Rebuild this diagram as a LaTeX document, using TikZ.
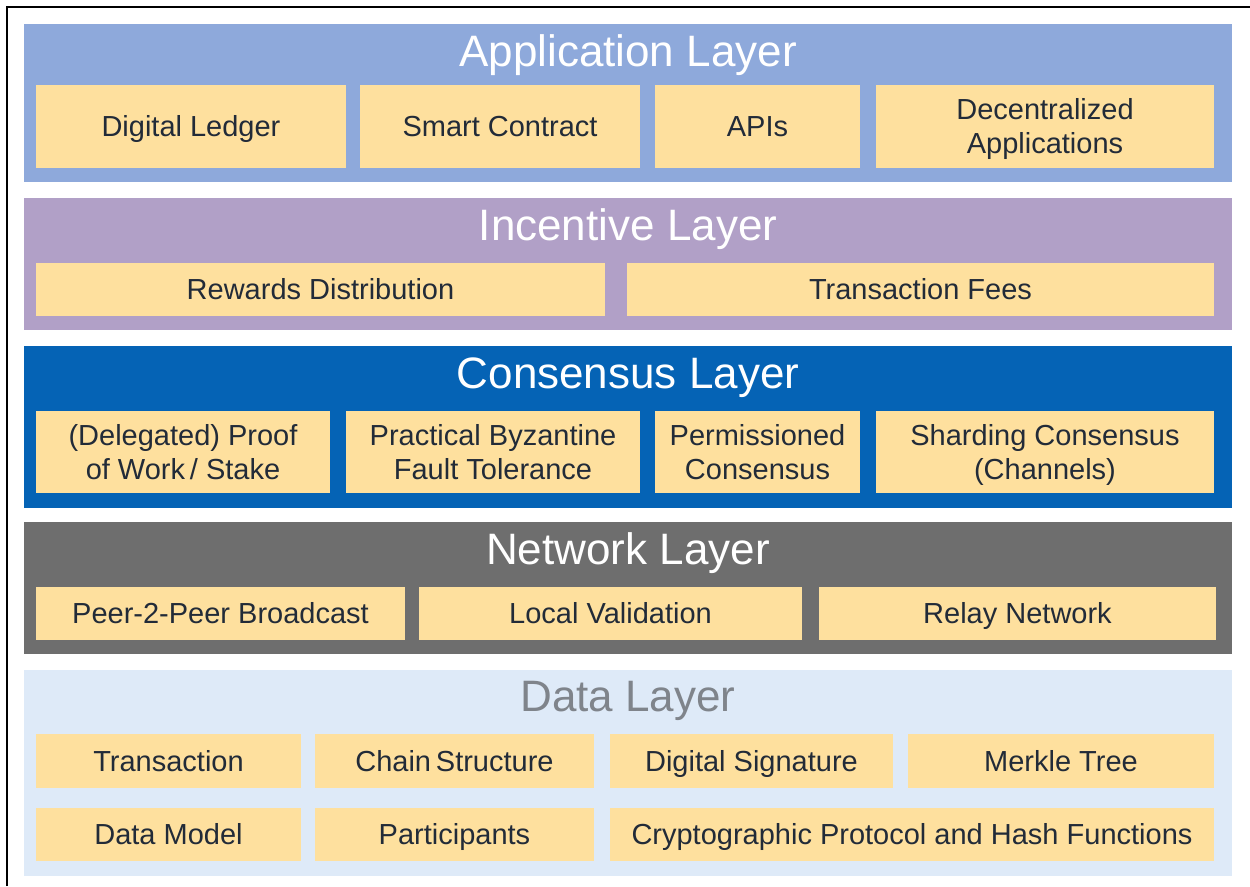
\documentclass[tikz,border=0pt]{standalone}
\usepackage{fontspec}
\setmainfont{Liberation Sans}
\definecolor{appblue}{HTML}{8EA9DB}
\definecolor{incpurple}{HTML}{B1A0C7}
\definecolor{consblue}{HTML}{0563B5}
\definecolor{netgray}{HTML}{6E6E6E}
\definecolor{datablue}{HTML}{DEEAF8}
\definecolor{itemfill}{HTML}{FEE09E}
\definecolor{itemtext}{HTML}{222B38}
\definecolor{datatitle}{HTML}{7F848B}
\begin{document}
\begin{tikzpicture}[x=1pt,y=-1pt,
  layer/.style={draw=none,inner sep=0pt,outer sep=0pt},
  ltitle/.style={anchor=base,inner sep=0pt,text=white,font=\fontsize{44}{48}\selectfont},
  item/.style={fill=itemfill,draw=none,inner sep=0pt,outer sep=0pt,text=itemtext,
    font=\fontsize{29}{34}\selectfont,text height=20.8pt,text depth=0pt},
  itemtwo/.style={fill=itemfill,draw=none,inner sep=0pt,outer sep=0pt,text=itemtext,
    font=\fontsize{29}{34}\selectfont,align=center,text height=54.8pt,text depth=0pt},
]
\useasboundingbox (0,0) rectangle (1250,886);
\fill[white] (0,0) rectangle (1250,886);
\draw[line width=1.8pt,black] (7,886) -- (7,7) -- (1250,7);

% Application layer
\node[layer,fill=appblue,minimum width=1208pt,minimum height=158pt] (app) at (628,103) {};
\node[ltitle] (appT) at (628,66) {Application Layer};
\node[item,minimum width=310pt,minimum height=83pt] (dl) at (191,126.5) {Digital Ledger};
\node[item,minimum width=280pt,minimum height=83pt] (sc) at (500,126.5) {Smart Contract};
\node[item,minimum width=205pt,minimum height=83pt] (api) at (757.5,126.5) {APIs};
\node[itemtwo,minimum width=338pt,minimum height=83pt] (dapp) at (1045,126.5) {Decentralized\\Applications};

% Incentive layer
\node[layer,fill=incpurple,minimum width=1208pt,minimum height=132pt] (inc) at (628,264) {};
\node[ltitle] (incT) at (628,240) {Incentive Layer};
\node[item,minimum width=569pt,minimum height=53pt] (rew) at (320.5,289.5) {Rewards Distribution};
\node[item,minimum width=587pt,minimum height=53pt] (fee) at (920.5,289.5) {Transaction Fees};

% Consensus layer
\node[layer,fill=consblue,minimum width=1208pt,minimum height=162pt] (cons) at (628,427) {};
\node[ltitle] (consT) at (628,388) {Consensus Layer};
\node[itemtwo,minimum width=294pt,minimum height=82pt] (pow) at (183,452) {(Delegated) Proof\\of Work\,/ Stake};
\node[itemtwo,minimum width=294pt,minimum height=82pt] (pbft) at (493,452) {Practical Byzantine\\Fault Tolerance};
\node[itemtwo,minimum width=205pt,minimum height=82pt] (perm) at (757.5,452) {Permissioned\\Consensus};
\node[itemtwo,minimum width=338pt,minimum height=82pt] (shard) at (1045,452) {Sharding Consensus\\(Channels)};

% Network layer
\node[layer,fill=netgray,minimum width=1208pt,minimum height=132pt] (net) at (628,588) {};
\node[ltitle] (netT) at (628,564) {Network Layer};
\node[item,minimum width=369pt,minimum height=53pt] (p2p) at (220.5,613.5) {Peer-2-Peer Broadcast};
\node[item,minimum width=383pt,minimum height=53pt] (lv) at (610.5,613.5) {Local Validation};
\node[item,minimum width=397pt,minimum height=53pt] (relay) at (1017.5,613.5) {Relay Network};

% Data layer
\node[layer,fill=datablue,minimum width=1208pt,minimum height=206pt] (data) at (628,773) {};
\node[ltitle,text=datatitle] (dataT) at (628,711) {Data Layer};
\node[item,minimum width=265pt,minimum height=54pt] (tx) at (168.5,761) {Transaction};
\node[item,minimum width=279pt,minimum height=54pt] (chain) at (454.5,761) {Chain\,Structure};
\node[item,minimum width=283pt,minimum height=54pt] (sig) at (751.5,761) {Digital Signature};
\node[item,minimum width=306pt,minimum height=54pt] (merkle) at (1061,761) {Merkle Tree};
\node[item,minimum width=265pt,minimum height=53pt] (dm) at (168.5,834.5) {Data Model};
\node[item,minimum width=279pt,minimum height=53pt] (part) at (454.5,834.5) {Participants};
\node[item,minimum width=604pt,minimum height=53pt] (crypto) at (912,834.5) {Cryptographic Protocol and Hash Functions};
\end{tikzpicture}
\end{document}
